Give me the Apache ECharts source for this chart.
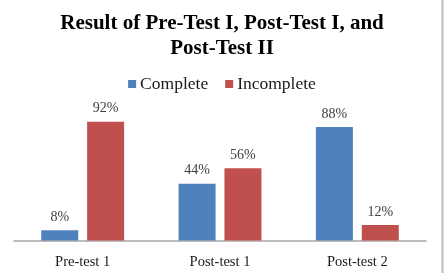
<!DOCTYPE html>
<html><head><meta charset="utf-8">
<script src="https://cdn.jsdelivr.net/npm/echarts@6/dist/echarts.min.js"></script>
<style>html,body{margin:0;padding:0;background:#fff}#c{width:444px;height:273px}</style>
</head><body><div id="c"></div>
<script>
var categories = ['Pre-test 1', 'Post-test 1', 'Post-test 2'];
var completeValues = [8, 44, 88];
var incompleteValues = [92, 56, 12];
var seriesNames = ['Complete', 'Incomplete'];
var titleText = 'Result of Pre-Test I, Post-Test I, and\nPost-Test II';

var font = '"Liberation Serif", "Times New Roman", serif';
var chart = echarts.init(document.getElementById('c'), null, {renderer: 'canvas'});
var labelOpt = {show: true, position: 'top', distance: 6, formatter: '{c}%', fontFamily: font, fontSize: 14, color: '#404040'};
chart.setOption({
  animation: false,
  title: {text: titleText, left: 'center', top: 6,
    textStyle: {fontFamily: font, fontWeight: 'bold', fontSize: 21, lineHeight: 25, color: '#000'}},
  legend: {top: 70, left: 'center', itemWidth: 8, itemHeight: 8, itemGap: 17, icon: 'rect',
    textStyle: {fontFamily: font, fontSize: 17.5, color: '#1a1a1a', padding: [0, 0, 0, -1]},
    data: seriesNames},
  grid: {left: 14, right: 18, top: 111.5, bottom: 32.5, containLabel: false},
  xAxis: {type: 'category', data: categories,
    axisLine: {lineStyle: {color: '#A6A6A6', width: 1.5}},
    axisTick: {show: false},
    axisLabel: {fontFamily: font, fontSize: 14.5, color: '#1a1a1a', margin: 14}},
  yAxis: {type: 'value', min: 0, max: 100, show: false, splitLine: {show: false}},
  series: [
    {name: seriesNames[0], type: 'bar', data: completeValues, barWidth: 37, barGap: '24%',
      itemStyle: {color: '#4F81BD'}, label: labelOpt},
    {name: seriesNames[1], type: 'bar', data: incompleteValues, barWidth: 37, barGap: '24%',
      itemStyle: {color: '#C0504D'}, label: labelOpt}
  ],
  graphic: [{type: 'rect', shape: {x: 441.5, y: 0, width: 2, height: 273}, style: {fill: '#BDBDBD'}, silent: true}]
});
</script></body></html>
